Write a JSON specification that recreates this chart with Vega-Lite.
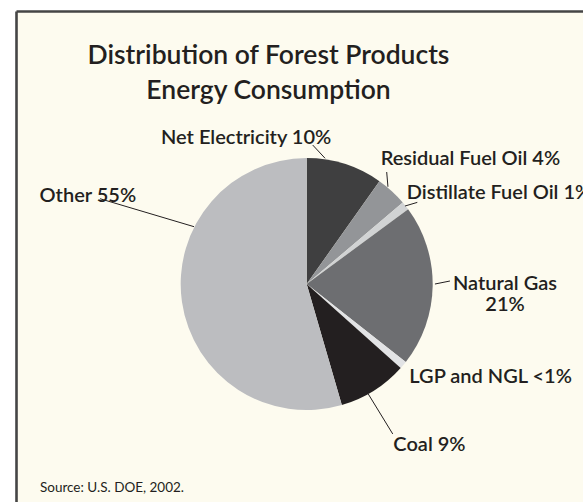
{
  "$schema": "https://vega.github.io/schema/vega-lite/v6.json",
  "width": 567,
  "height": 491,
  "autosize": {"type": "none"},
  "padding": {"left": 16, "top": 11, "right": 0, "bottom": 0},
  "background": "#ffffff",
  "config": {
    "view": {"fill": "#fdfbef", "stroke": null},
    "axis": {"domainColor": "#454545", "domainWidth": 2.6, "ticks": false, "labels": false, "grid": false, "title": null},
    "font": "Lato",
    "title": {"font": "Lato", "fontWeight": 600, "fontSize": 26.5, "color": "#231f20", "lineHeight": 35}
  },
  "title": {
    "text": ["Distribution of Forest Products", "Energy Consumption"],
    "anchor": "middle",
    "frame": "group",
    "baseline": "alphabetic",
    "dx": -31,
    "offset": -114
  },
  "datasets": {
    "slices": [
      {"source": "Net Electricity", "value": 9.8, "rank": 1},
      {"source": "Residual Fuel Oil", "value": 4.0, "rank": 2},
      {"source": "Distillate Fuel Oil", "value": 1.1, "rank": 3},
      {"source": "Natural Gas", "value": 20.7, "rank": 4},
      {"source": "LGP and NGL", "value": 1.0, "rank": 5},
      {"source": "Coal", "value": 8.9, "rank": 6},
      {"source": "Other", "value": 54.5, "rank": 7}
    ],
    "labels": [
      {"label": "Net Electricity 10%", "lx": -115.6, "ly": 111.3},
      {"label": "Residual Fuel Oil 4%", "lx": 58.7, "ly": 94.4},
      {"label": "Distillate Fuel Oil 1%", "lx": 79.4, "ly": 67.2},
      {"label": "Natural Gas\n21%", "lx": 157.4, "ly": -4.8},
      {"label": "LGP and NGL <1%", "lx": 81.5, "ly": -78.8},
      {"label": "Coal 9%", "lx": 68.8, "ly": -132.5},
      {"label": "Other 55%", "lx": -212, "ly": 65},
      {"label": "Source: U.S. DOE, 2002.", "lx": -211.7, "ly": -165.1}
    ],
    "leaders": [
      {"slice": "Net Electricity", "x1": 4.8, "y1": 110.3, "x2": 14.6, "y2": 99.8},
      {"slice": "Residual Fuel Oil", "x1": 63.5, "y1": 88.9, "x2": 64.5, "y2": 77.2},
      {"slice": "Distillate Fuel Oil", "x1": 78.0, "y1": 61.9, "x2": 87.8, "y2": 64.8},
      {"slice": "Natural Gas", "x1": 101.8, "y1": 0, "x2": 113.7, "y2": 2.4},
      {"slice": "Coal", "x1": 48.9, "y1": -87.3, "x2": 68.3, "y2": -119},
      {"slice": "Other", "x1": -164, "y1": 67.7, "x2": -89.4, "y2": 45.5}
    ]
  },
  "layer": [
    {
      "data": {"name": "slices"},
      "mark": {"type": "arc", "outerRadius": 126},
      "encoding": {
        "x": {"datum": 0, "type": "quantitative", "scale": {"domain": [-230.7, 219.3], "nice": false, "zero": false}, "axis": {"orient": "top"}},
        "y": {"datum": 0, "type": "quantitative", "scale": {"domain": [-173, 216.7], "nice": false, "zero": false}, "axis": {"orient": "left"}},
        "theta": {"field": "value", "type": "quantitative", "stack": true},
        "order": {"field": "rank", "type": "quantitative"},
        "color": {
          "field": "source", "type": "nominal", "legend": null,
          "scale": {
            "domain": ["Net Electricity", "Residual Fuel Oil", "Distillate Fuel Oil", "Natural Gas", "LGP and NGL", "Coal", "Other"],
            "range": ["#3f3f40", "#939598", "#d1d3d4", "#6d6e71", "#e2e3e5", "#231f20", "#bcbdc0"]
          }
        }
      }
    },
    {
      "data": {"name": "leaders"},
      "mark": {"type": "rule", "color": "#231f20", "strokeWidth": 1},
      "encoding": {
        "x": {"field": "x1", "type": "quantitative"},
        "y": {"field": "y1", "type": "quantitative"},
        "x2": {"field": "x2"},
        "y2": {"field": "y2"}
      }
    },
    {
      "data": {"name": "labels"},
      "transform": [{"filter": "datum.label !== 'Natural Gas\\n21%' && datum.label !== 'Source: U.S. DOE, 2002.'"}],
      "mark": {"type": "text", "align": "left", "baseline": "alphabetic", "font": "Lato", "fontWeight": 600, "fontSize": 20, "color": "#231f20"},
      "encoding": {
        "x": {"field": "lx", "type": "quantitative"},
        "y": {"field": "ly", "type": "quantitative"},
        "text": {"field": "label", "type": "nominal"}
      }
    },
    {
      "data": {"name": "labels"},
      "transform": [{"filter": "datum.label === 'Natural Gas\\n21%'"}],
      "mark": {"type": "text", "align": "center", "baseline": "alphabetic", "lineBreak": "\n", "lineHeight": 21, "font": "Lato", "fontWeight": 600, "fontSize": 20, "color": "#231f20"},
      "encoding": {
        "x": {"field": "lx", "type": "quantitative"},
        "y": {"field": "ly", "type": "quantitative"},
        "text": {"field": "label", "type": "nominal"}
      }
    },
    {
      "data": {"name": "labels"},
      "transform": [{"filter": "datum.label === 'Source: U.S. DOE, 2002.'"}],
      "mark": {"type": "text", "align": "left", "baseline": "alphabetic", "font": "Lato", "fontWeight": 400, "fontSize": 13.5, "color": "#231f20"},
      "encoding": {
        "x": {"field": "lx", "type": "quantitative"},
        "y": {"field": "ly", "type": "quantitative"},
        "text": {"field": "label", "type": "nominal"}
      }
    }
  ]
}
